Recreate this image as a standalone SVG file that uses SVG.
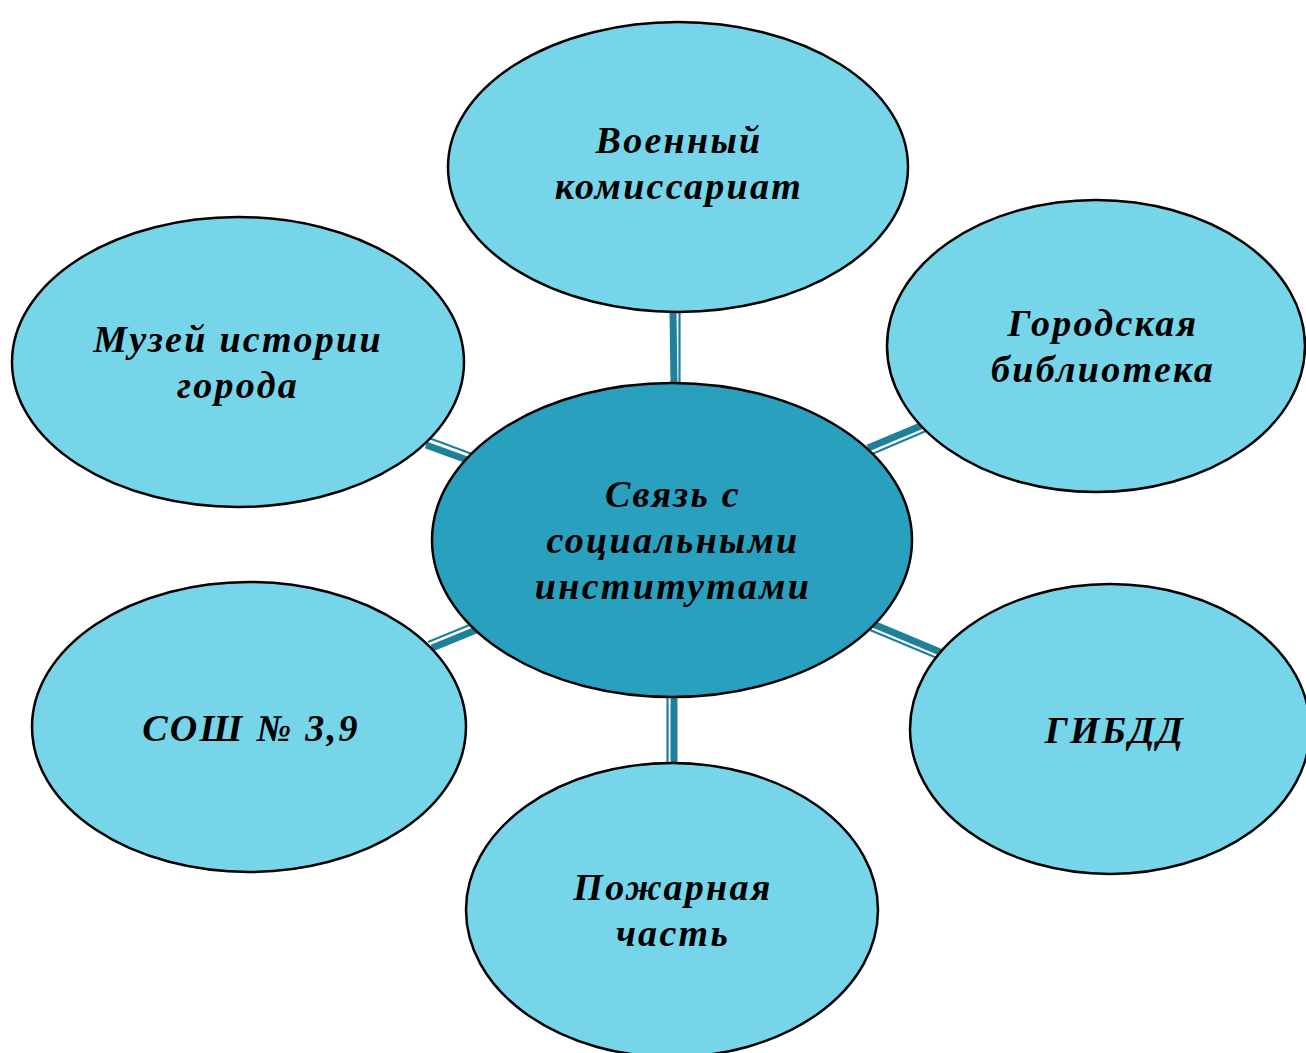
<svg xmlns="http://www.w3.org/2000/svg" width="1306" height="1053" viewBox="0 0 1306 1053">
<style>
.n{fill:#76d5e8;stroke:#000;stroke-width:2.5}
.c{fill:#2aa0bf;stroke:#000;stroke-width:2.5}
.t{font-family:"Liberation Serif","Times New Roman",serif;font-weight:bold;font-style:italic;font-size:38px;letter-spacing:2.3px;fill:#000;text-anchor:middle}
.k{stroke:#1f8199;stroke-width:7;fill:none}
.h{stroke:#1f8199;stroke-width:2.2;fill:none}
</style>
<rect width="1306" height="1053" fill="#fff"/>
<g id="connectors">
<line class="k" x1="673" y1="312" x2="674" y2="385"/><line class="h" x1="679.5" y1="312" x2="679.5" y2="385"/>
<line class="k" x1="674" y1="697" x2="674" y2="765"/><line class="h" x1="667.5" y1="697" x2="667.5" y2="765"/>
<line class="k" x1="426" y1="445" x2="470" y2="461"/><line class="h" x1="429" y1="438" x2="472" y2="454"/>
<line class="k" x1="868" y1="448" x2="923" y2="425"/><line class="h" x1="872" y1="454" x2="926" y2="431"/>
<line class="k" x1="432" y1="648" x2="476" y2="630"/><line class="h" x1="428" y1="642" x2="472" y2="624"/>
<line class="k" x1="873" y1="624" x2="940" y2="652"/><line class="h" x1="870" y1="630" x2="937" y2="658"/>
</g>
<g id="n-top"><ellipse class="n" cx="678" cy="167" rx="230" ry="145"/><text class="t" x="679" y="153">Военный</text><text class="t" x="679" y="199">комиссариат</text></g>
<g id="n-museum"><ellipse class="n" cx="238" cy="362" rx="226" ry="145"/><text class="t" x="238" y="352">Музей истории</text><text class="t" x="238" y="398">города</text></g>
<g id="n-library"><ellipse class="n" cx="1096" cy="346" rx="209" ry="146"/><text class="t" x="1103" y="336">Городская</text><text class="t" x="1103" y="382">библиотека</text></g>
<g id="n-school"><ellipse class="n" cx="249" cy="727" rx="217" ry="145"/><text class="t" x="251" y="741">СОШ № 3,9</text></g>
<g id="n-gibdd"><ellipse class="n" cx="1110" cy="729" rx="200" ry="145"/><text class="t" x="1115" y="743">ГИБДД</text></g>
<g id="n-fire"><ellipse class="n" cx="672" cy="910" rx="206" ry="147"/><text class="t" x="673" y="900">Пожарная</text><text class="t" x="673" y="946">часть</text></g>
<g id="n-center"><ellipse class="c" cx="672" cy="540" rx="240" ry="157"/><text class="t" x="673" y="507">Связь с</text><text class="t" x="673" y="553">социальными</text><text class="t" x="673" y="599">институтами</text></g>
</svg>
